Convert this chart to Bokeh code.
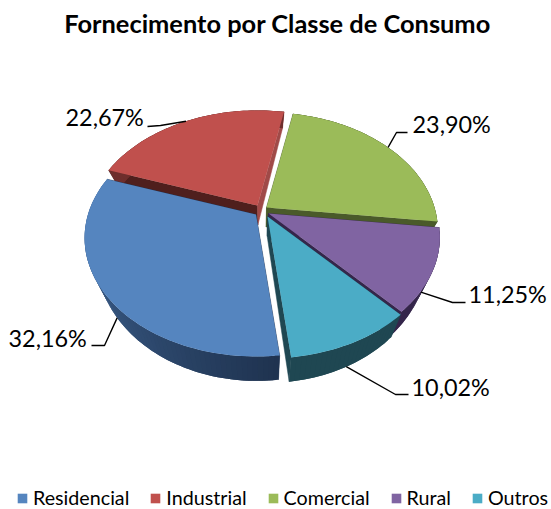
import math
from bokeh.plotting import figure
from bokeh.models import Legend, LegendItem
from bokeh.core.properties import value
from bokeh.embed import file_html
from bokeh.resources import INLINE

categories = ["Residencial", "Industrial", "Comercial", "Rural", "Outros"]
shares = [32.16, 22.67, 23.90, 11.25, 10.02]
labels = ["32,16%", "22,67%", "23,90%", "11,25%", "10,02%"]
title = "Fornecimento por Classe de Consumo"

top_colors = ["#5585BF", "#C0504D", "#9BBB59", "#8064A2", "#4BACC6"]
start_face = ["#1F3350", "#4F1F1D", "#4A5A2A", "#35264B", "#1F4752"]
end_face = ["#1F3350", "#A04A48", "#4A5A2A", "#35264B", "#1F4752"]
wall_from = ["#4A74A8", "#6E2E2C", "#4A5A2A", "#35264B", "#1F4752"]
wall_to = ["#1F3350", "#6E2E2C", "#4A5A2A", "#35264B", "#1F4752"]

# layout of the exploded, tilted pie (screen pixels)
apex = [(255.5, 214), (257, 205), (266, 207), (268, 213), (267, 216)]
A, B, K = 168.0, 113.9, 0.198
START = 173.5
CX = 262.0
W, H = 551, 509


def proj(i, theta, r=1.0):
    t = math.radians(theta)
    u, v = math.sin(t) * r, -math.cos(t) * r
    w = 1 - K * v
    return apex[i][0] + A * u / w, apex[i][1] + B * v / w, w


def low(pt):
    x, y, w = pt
    return x - 0.07 * (x - CX), y + 19.5 / w


def mix(c1, c2, f):
    a = [int(c1[j:j + 2], 16) for j in (1, 3, 5)]
    b = [int(c2[j:j + 2], 16) for j in (1, 3, 5)]
    return "#%02x%02x%02x" % tuple(round(p + (q - p) * f) for p, q in zip(a, b))


p = figure(width=W, height=H, x_range=(0, W), y_range=(H, 0),
           output_backend="svg", toolbar_location=None,
           x_axis_location=None, y_axis_location=None, min_border=0,
           outline_line_color=None, background_fill_color="white")
p.grid.visible = False

spans = []
a0 = START
for s in shares:
    a1 = a0 + s * 3.6
    spans.append((a0, a1))
    a0 = a1

tops = {}
for i in [1, 2, 3, 0, 4]:
    a0, a1 = spans[i]
    n = max(8, int((a1 - a0) / 1.5))
    th = [a0 + (a1 - a0) * j / n for j in range(n + 1)]
    ring = [proj(i, t) for t in th]
    ctr = proj(i, 0, 0.0)
    # radial faces
    for pt, col in ((ring[0], start_face[i]), (ring[-1], end_face[i])):
        lo, lc = low(pt), low(ctr)
        p.patch([ctr[0], pt[0], lo[0], lc[0]], [ctr[1], pt[1], lo[1], lc[1]],
                fill_color=col, line_color=col, line_width=0.5)
    # outer wall, shaded along the arc; each piece overlaps the next to avoid seams
    xs, ys, cols = [], [], []
    for j in range(n):
        seg = ring[j:j + 3]
        bot = [low(q) for q in seg][::-1]
        xs.append([q[0] for q in seg] + [q[0] for q in bot])
        ys.append([q[1] for q in seg] + [q[1] for q in bot])
        cols.append(mix(wall_to[i], wall_from[i], j / n))
    p.patches(xs, ys, fill_color=cols, line_color=None)
    # top surface
    tops[i] = p.patch([ctr[0]] + [q[0] for q in ring], [ctr[1]] + [q[1] for q in ring],
                      fill_color=top_colors[i], line_color=None)

# leader lines and data labels
knees = [((104, 345), (91, 345)), ((160, 125), (147, 126)), ((396, 132), (407, 132)),
         ((452, 302), (465, 302)), ((395, 394), (408, 394))]
lifted = [True, False, False, True, True]
label_at = [(8, 337), (65, 116), (412, 123), (468, 293), (411, 386)]
for i in range(5):
    mid = sum(spans[i]) / 2
    pt = proj(i, mid)
    start = low(pt) if lifted[i] else pt[:2]
    k, e = knees[i]
    p.line([start[0], k[0], e[0]], [start[1], k[1], e[1]], line_color="black", line_width=1.4)
    p.text([label_at[i][0]], [label_at[i][1]], text=[labels[i]],
           text_font=value("Lato"), text_font_size="23.4px", text_baseline="middle",
           text_align="left", text_color="black")

p.text([277], [22], text=[title], text_font=value("Lato"), text_font_size="25.4px",
       text_font_style="bold", text_align="center", text_baseline="middle", text_color="black")

legend = Legend(items=[LegendItem(label=categories[i], renderers=[tops[i]]) for i in range(5)],
                orientation="horizontal", location=(16, 0), padding=0, margin=0, spacing=20,
                glyph_width=12, glyph_height=12, label_standoff=5,
                label_text_font="Lato", label_text_font_size="19.7px", label_text_color="black",
                border_line_color=None, background_fill_alpha=0, click_policy="none")
p.add_layout(legend, "center")

open("out.html", "w").write(file_html(p, INLINE))
